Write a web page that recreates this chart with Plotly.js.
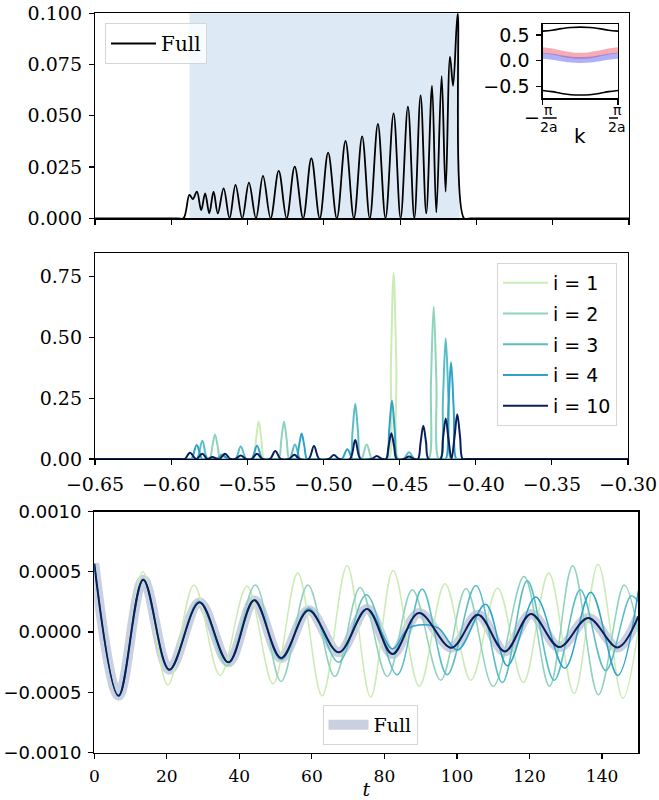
<!DOCTYPE html>
<html><head><meta charset="utf-8">
<script src="https://cdn.plot.ly/plotly-3.0.1.min.js"></script>
<style>html,body{margin:0;padding:0;background:#fff}</style>
</head><body>
<div id="chart" style="width:659px;height:800px"></div>
<script>
// ---------- Top panel: full spectrum ----------
const topX = [-0.650, -0.5960, -0.5920, -0.5881, -0.5859, -0.5832, -0.5804, -0.5778, -0.5751, -0.5723, -0.5695, -0.5657, -0.5618, -0.5579, -0.5535, -0.5491, -0.5445, -0.5399, -0.5349, -0.5296, -0.5244, -0.5191, -0.5136, -0.5082, -0.5027, -0.4972, -0.4915, -0.4858, -0.4803, -0.4749, -0.4699, -0.4646, -0.4596, -0.4543, -0.4497, -0.4449, -0.4407, -0.4366, -0.4329, -0.4291, -0.4263, -0.4228, -0.4202, -0.4173, -0.4153, -0.4123, -0.4081, -0.4040, -0.300];
const topY = [0, 0, 0, 0.0114, 0.0094, 0.0130, 0.0040, 0.0122, 0.0024, 0.0130, 0.0024, 0.0146, 0, 0.0163, 0, 0.0174, 0, 0.0207, 0, 0.0231, 0, 0.0252, 0, 0.0293, 0, 0.0320, 0, 0.0377, 0, 0.0400, 0, 0.0460, 0, 0.0512, 0, 0.0545, 0, 0.0600, 0.0024, 0.0646, 0.0029, 0.0694, 0.0130, 0.0789, 0.0646, 0.1000, 0, 0, 0];
const shadeRange = [-0.588, -0.411];

// ---------- Inset: bands ----------
const kInset = [-1, -0.75, -0.5, -0.25, 0, 0.25, 0.5, 0.75, 1];
const eUpper = [0.577, 0.595, 0.625, 0.648, 0.654, 0.648, 0.625, 0.595, 0.577];
const eLower = [-0.577, -0.600, -0.635, -0.660, -0.667, -0.660, -0.635, -0.600, -0.577];
const eRed   = [0.205, 0.180, 0.140, 0.108, 0.096, 0.108, 0.140, 0.180, 0.205];
const eBlue  = [0.096, 0.078, 0.048, 0.022, 0.013, 0.022, 0.048, 0.078, 0.096];

// ---------- Middle panel: components ----------
const midNames = ['i = 1', 'i = 2', 'i = 3', 'i = 4', 'i = 10'];
const m1x = [-0.65, -0.5485, -0.5460, -0.5443, -0.5425, -0.5407, -0.5390, -0.5365, -0.4599, -0.4571, -0.4557, -0.4539, -0.4521, -0.4507, -0.4479, -0.30];
const m1y = [0, 0, 0, 0.077, 0.154, 0.077, 0, 0, 0, 0, 0.383, 0.766, 0.383, 0, 0, 0];
const m2x = [-0.65, -0.5772, -0.5747, -0.5730, -0.5712, -0.5694, -0.5677, -0.5652, -0.5319, -0.5294, -0.5277, -0.5259, -0.5241, -0.5224, -0.5199, -0.4776, -0.4751, -0.4716, -0.4681, -0.4656, -0.4336, -0.4309, -0.4294, -0.4276, -0.4258, -0.4243, -0.4216, -0.30];
const m2y = [0, 0, 0, 0.05, 0.101, 0.05, 0, 0, 0, 0, 0.077, 0.154, 0.077, 0, 0, 0, 0, 0.060, 0, 0, 0, 0, 0.313, 0.627, 0.313, 0, 0, 0];
const m3x = [-0.65, -0.5855, -0.5830, -0.5795, -0.5760, -0.5702, -0.5667, -0.5632, -0.5578, -0.5543, -0.5508, -0.5483, -0.5247, -0.5222, -0.5187, -0.5152, -0.5127, -0.4851, -0.4826, -0.4809, -0.4791, -0.4773, -0.4756, -0.4731, -0.4498, -0.4473, -0.4438, -0.4403, -0.4378, -0.4257, -0.4232, -0.4215, -0.4197, -0.4179, -0.4162, -0.4137, -0.30];
const m3y = [0, 0, 0, 0.075, 0, 0, 0.018, 0, 0, 0.051, 0, 0, 0, 0, 0.060, 0, 0, 0, 0, 0.113, 0.226, 0.113, 0, 0, 0, 0, 0.028, 0, 0, 0, 0, 0.248, 0.496, 0.248, 0, 0, 0];
const m4x = [-0.65, -0.5892, -0.5867, -0.5832, -0.5797, -0.5772, -0.5720, -0.5695, -0.5660, -0.5625, -0.5600, -0.5496, -0.5471, -0.5436, -0.5401, -0.5376, -0.5203, -0.5178, -0.5161, -0.5143, -0.5125, -0.5108, -0.5083, -0.4903, -0.4878, -0.4843, -0.4808, -0.4783, -0.4610, -0.4585, -0.4568, -0.4550, -0.4532, -0.4515, -0.4490, -0.4222, -0.4197, -0.4180, -0.4162, -0.4144, -0.4127, -0.4102, -0.30];
const m4y = [0, 0, 0, 0.058, 0, 0, 0, 0, 0.015, 0, 0, 0, 0, 0.055, 0, 0, 0, 0, 0.052, 0.105, 0.052, 0, 0, 0, 0, 0.040, 0, 0, 0, 0, 0.120, 0.240, 0.120, 0, 0, 0, 0, 0.199, 0.398, 0.199, 0, 0, 0];
const m10x = [-0.65, -0.5936, -0.5911, -0.5876, -0.5836, -0.5795, -0.5763, -0.5730, -0.5695, -0.5681, -0.5646, -0.5611, -0.5578, -0.5543, -0.5508, -0.5471, -0.5436, -0.5401, -0.5351, -0.5316, -0.5281, -0.5226, -0.5191, -0.5156, -0.5097, -0.5062, -0.5027, -0.4966, -0.4931, -0.4896, -0.4826, -0.4791, -0.4756, -0.4685, -0.4650, -0.4615, -0.4589, -0.4572, -0.4554, -0.4536, -0.4519, -0.4473, -0.4438, -0.4403, -0.4379, -0.4362, -0.4344, -0.4326, -0.4309, -0.4232, -0.4215, -0.4197, -0.4179, -0.4159, -0.4139, -0.4121, -0.4103, -0.4086, -0.4061, -0.30];
const m10y = [0, 0, 0, 0.026, 0, 0.022, 0, 0.008, 0, 0, 0.022, 0, 0, 0.014, 0, 0, 0.022, 0, 0, 0.033, 0, 0, 0.017, 0, 0, 0.053, 0, 0, 0.016, 0, 0, 0.078, 0, 0, 0.012, 0, 0, 0.053, 0.106, 0.053, 0, 0, 0.010, 0, 0, 0.068, 0.137, 0.068, 0, 0, 0.083, 0.167, 0.083, 0, 0.092, 0.184, 0.092, 0, 0, 0];

// ---------- Bottom panel: time signals (extrema) ----------
const tFull = [0, 6.7, 13.5, 20.7, 29.0, 37.0, 44.1, 51.5, 59.1, 67.4, 75.2, 82.2, 89.5, 98.5, 105.8, 113.2, 120.4, 128.2, 136.2, 144.3, 150];
const vFull = [0.00057, -0.00053, 0.000434, -0.000313, 0.000246, -0.000252, 0.000263, -0.000216, 0.00018, -0.000169, 0.000191, -0.000183, 0.000158, -0.00013, 0.000144, -0.000161, 0.000149, -0.000125, 0.000116, -0.000128, 0.00013];
const t1 = [0, 6.7, 13.4, 20.3, 27.5, 34.7, 42.1, 49.3, 56.1, 62.8, 69.7, 76.2, 82.4, 89.6, 96.7, 103.8, 111.2, 118.3, 125.3, 132.3, 138.9, 145.7, 150];
const v1 = [0.00057, -0.00053, 0.0005, -0.00044, 0.00039, -0.00036, 0.00038, -0.00043, 0.00049, -0.00053, 0.00055, -0.00054, 0.00051, -0.00045, 0.0004, -0.0004, 0.000365, -0.00042, 0.00049, -0.00051, 0.00056, -0.00055, 0.00002];
const t2 = [0, 6.7, 13.5, 20.7, 28.8, 36.6, 44.4, 51.5, 58.9, 66.3, 73.3, 80.8, 87.7, 95.5, 102.5, 110.0, 118.5, 125.5, 131.9, 139.0, 146.1, 150];
const v2 = [0.00057, -0.00053, 0.00044, -0.00032, 0.00026, -0.00028, 0.00039, -0.00041, 0.00039, -0.00037, 0.00037, -0.00037, 0.00035, -0.0004, 0.00036, -0.00045, 0.00046, -0.00045, 0.00055, -0.00052, 0.00039, 0.0];
const t3 = [0, 6.7, 13.5, 20.7, 29.0, 37.0, 44.2, 51.5, 59.1, 67.4, 75.0, 83.5, 90.4, 97.3, 105.2, 112.5, 119.4, 126.8, 134.0, 141.0, 148.0, 150];
const v3 = [0.00057, -0.00053, 0.000434, -0.000313, 0.000246, -0.000252, 0.00027, -0.00023, 0.0002, -0.00025, 0.00031, -0.000355, 0.000357, -0.000355, 0.000385, -0.00042, 0.000426, -0.0004, 0.00035, -0.00032, 0.0003, 0.00025];
const t4 = [0, 6.7, 13.5, 20.7, 29.0, 37.0, 44.1, 51.5, 59.1, 67.4, 75.2, 82.2, 86.5, 91.0, 95.0, 100.2, 107.9, 113.9, 121.7, 129.7, 136.9, 144.3, 150];
const v4 = [0.00057, -0.00053, 0.000434, -0.000313, 0.000246, -0.000252, 0.000263, -0.000216, 0.00018, -0.00017, 0.00019, -0.00014, 0.00003, 0.00006, 0.00003, -0.00015, 0.00023, -0.00028, 0.00029, -0.0003, 0.00033, -0.00036, 0.00034];
const t10 = [0, 6.7, 13.5, 20.7, 29.0, 37.0, 44.1, 51.5, 59.1, 67.4, 75.2, 82.2, 89.5, 98.5, 105.8, 113.2, 120.4, 128.2, 136.2, 144.3, 150];
const v10 = [0.000565, -0.00053, 0.000434, -0.000313, 0.000246, -0.000252, 0.000263, -0.000216, 0.00018, -0.000169, 0.000191, -0.000183, 0.000158, -0.00013, 0.000144, -0.000161, 0.000149, -0.000125, 0.000116, -0.000128, 0.00013];

const colors = ['#cdebb6', '#8fd3bd', '#5abdc5', '#2fa2c8', '#0b1f5e'];

// ---------- helpers for layout (px -> paper) ----------
const W = 659, H = 800;
const px = v => v / W, py = v => 1 - v / H;
const serif = 'DejaVu Serif', sans = 'DejaVu Sans';

const baseAx = {showline: true, mirror: true, linecolor: '#000', linewidth: 1.2, ticks: 'outside', ticklen: 5, tickwidth: 1.2, tickcolor: '#000', showgrid: false, zeroline: false, ticklabelstandoff: 3};

const traces = [];
traces.push({x: topX, y: topY, xaxis: 'x', yaxis: 'y', type: 'scatter', mode: 'lines', name: 'Full',
  line: {color: '#000', width: 1.8, shape: 'spline', smoothing: 1}, legend: 'legend'});
const mxs = [m1x, m2x, m3x, m4x, m10x], mys = [m1y, m2y, m3y, m4y, m10y];
for (let i = 0; i < 5; i++) {
  traces.push({x: mxs[i], y: mys[i], xaxis: 'x2', yaxis: 'y2', type: 'scatter', mode: 'lines', name: midNames[i],
    legendgroup: 'g' + i, line: {color: colors[i], width: 2, shape: 'spline', smoothing: 1}, legend: 'legend2'});
}
traces.push({x: tFull, y: vFull, xaxis: 'x3', yaxis: 'y3', type: 'scatter', mode: 'lines', name: 'Full',
  line: {color: '#cbd0e0', width: 10, shape: 'spline', smoothing: 1}, legend: 'legend3'});
const bts = [t1, t2, t3, t4, t10], bvs = [v1, v2, v3, v4, v10];
for (let i = 0; i < 5; i++) {
  traces.push({x: bts[i], y: bvs[i], xaxis: 'x3', yaxis: 'y3', type: 'scatter', mode: 'lines', name: midNames[i],
    showlegend: false, line: {color: colors[i], width: i === 4 ? 2 : 1.5, shape: 'spline', smoothing: 1}});
}
traces.push({x: kInset, y: eUpper, xaxis: 'x4', yaxis: 'y4', type: 'scatter', mode: 'lines', showlegend: false,
  line: {color: '#000', width: 1.6, shape: 'spline'}});
traces.push({x: kInset, y: eLower, xaxis: 'x4', yaxis: 'y4', type: 'scatter', mode: 'lines', showlegend: false,
  line: {color: '#000', width: 1.6, shape: 'spline'}});
traces.push({x: kInset, y: eRed, xaxis: 'x4', yaxis: 'y4', type: 'scatter', mode: 'lines', showlegend: false,
  line: {color: 'rgba(235,70,85,0.45)', width: 6, shape: 'spline'}});
traces.push({x: kInset, y: eBlue, xaxis: 'x4', yaxis: 'y4', type: 'scatter', mode: 'lines', showlegend: false,
  line: {color: 'rgba(80,80,240,0.45)', width: 6, shape: 'spline'}});

const xt = [-0.65, -0.60, -0.55, -0.50, -0.45, -0.40, -0.35, -0.30];
const ann = (x, xs, y, text, size) => ({xref: 'x4', x: x, xshift: xs, yref: 'paper', y: py(y), yanchor: 'middle', xanchor: 'center',
  text: text, showarrow: false, font: {family: sans, size: size, color: '#000'}});

const layout = {
  width: W, height: H, margin: {l: 0, r: 0, t: 0, b: 0},
  paper_bgcolor: '#fff', plot_bgcolor: '#fff', showlegend: true,
  font: {family: serif, color: '#000'},
  xaxis: Object.assign({}, baseAx, {domain: [px(95), px(629)], anchor: 'y', range: [-0.65, -0.30], tickvals: xt, showticklabels: false}),
  yaxis: Object.assign({}, baseAx, {domain: [py(218.3), py(13.3)], anchor: 'x', range: [0, 0.1],
    tickvals: [0, 0.025, 0.05, 0.075, 0.1], tickformat: '.3f', tickfont: {family: serif, size: 19}}),
  xaxis2: Object.assign({}, baseAx, {domain: [px(95), px(628)], anchor: 'y2', range: [-0.65, -0.30], tickvals: xt,
    tickformat: '.2f', tickfont: {family: serif, size: 19}}),
  yaxis2: Object.assign({}, baseAx, {domain: [py(459), py(253.3)], anchor: 'x2', range: [0, 0.846],
    tickvals: [0, 0.25, 0.5, 0.75], tickformat: '.2f', tickfont: {family: serif, size: 19}}),
  xaxis3: Object.assign({}, baseAx, {domain: [px(94.3), px(638.3)], anchor: 'y3', range: [0, 150],
    tickvals: [0, 20, 40, 60, 80, 100, 120, 140], tickfont: {family: serif, size: 17},
    title: {text: '<i>t</i>', font: {family: serif, size: 19}, standoff: 4}}),
  yaxis3: Object.assign({}, baseAx, {domain: [py(752.5), py(511.5)], anchor: 'x3', range: [-0.001, 0.001],
    tickvals: [-0.001, -0.0005, 0, 0.0005, 0.001], tickformat: '.4f', tickfont: {family: sans, size: 18}}),
  xaxis4: Object.assign({}, baseAx, {domain: [px(542.7), px(618)], anchor: 'y4', range: [-1, 1], tickvals: [-1, 1],
    showticklabels: false, linewidth: 1.4}),
  yaxis4: Object.assign({}, baseAx, {domain: [py(98.3), py(24)], anchor: 'x4', range: [-0.73, 0.715],
    tickvals: [-0.5, 0, 0.5], tickformat: '.1f', tickfont: {family: sans, size: 19}, linewidth: 1.4}),
  shapes: [
    {type: 'rect', xref: 'x', yref: 'y domain', x0: shadeRange[0], x1: shadeRange[1], y0: 0, y1: 1,
      fillcolor: '#dde9f4', line: {width: 0}, layer: 'below'},
    {type: 'line', xref: 'x4', xsizemode: 'pixel', xanchor: -1, x0: -2, x1: 14, yref: 'paper', y0: py(118), y1: py(118), line: {color: '#000', width: 1.3}},
    {type: 'line', xref: 'x4', xsizemode: 'pixel', xanchor: 1, x0: -9, x1: 7, yref: 'paper', y0: py(118), y1: py(118), line: {color: '#000', width: 1.3}}
  ],
  annotations: [
    ann(-1, 6, 110, 'π', 14), ann(-1, 6, 127, '2a', 14), ann(-1, -11, 117, '−', 19),
    ann(1, -1, 110, 'π', 14), ann(1, -1, 127, '2a', 14), ann(0, 0, 136, 'k', 20)
  ],
  legend: {x: px(105), y: py(23), xanchor: 'left', yanchor: 'top', font: {family: serif, size: 20}, itemwidth: 45,
    bgcolor: 'rgba(255,255,255,0.8)', bordercolor: '#d6d6d6', borderwidth: 1},
  legend2: {x: px(617), y: py(263), xanchor: 'right', yanchor: 'top', font: {family: sans, size: 19}, itemwidth: 45,
    bgcolor: 'rgba(255,255,255,0.8)', bordercolor: '#d6d6d6', borderwidth: 1, tracegroupgap: 3},
  legend3: {x: px(370), y: py(745), xanchor: 'center', yanchor: 'bottom', font: {family: serif, size: 19}, itemwidth: 40,
    bgcolor: 'rgba(255,255,255,0.8)', bordercolor: '#d6d6d6', borderwidth: 1}
};

Plotly.newPlot('chart', traces, layout, {staticPlot: true, displayModeBar: false});
</script>
</body></html>
